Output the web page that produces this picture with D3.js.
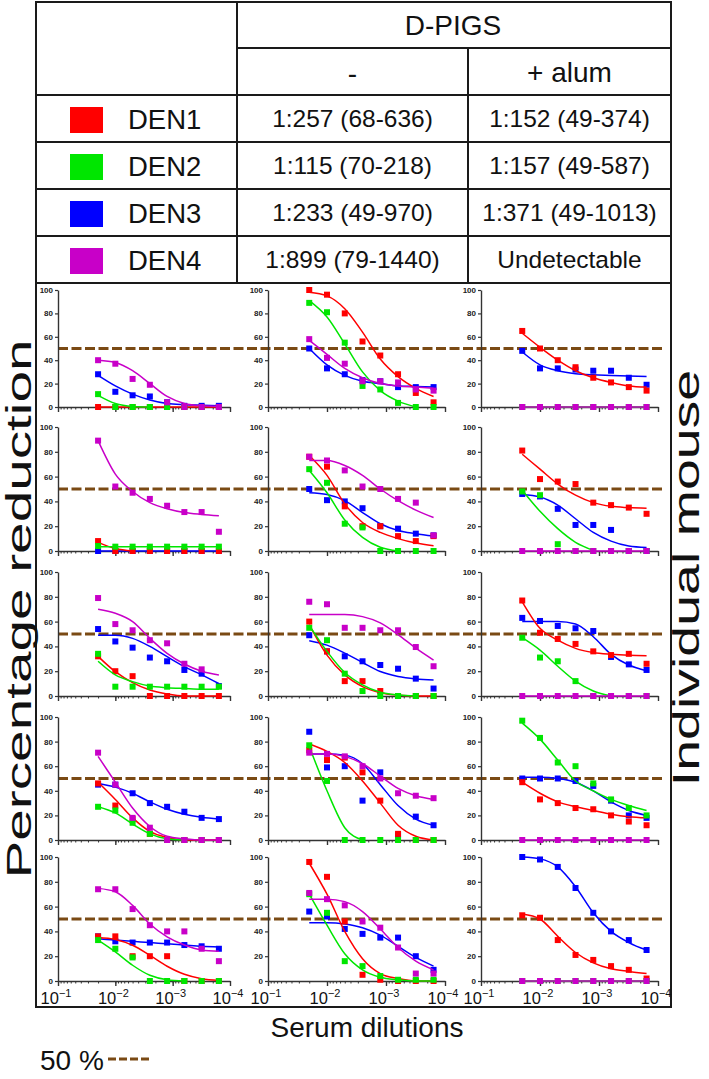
<!DOCTYPE html>
<html><head><meta charset="utf-8">
<script src="https://cdn.jsdelivr.net/npm/d3@7"></script>
<style>
body{margin:0;background:#fff}
svg{display:block;font-family:Arial,"Liberation Sans",Helvetica,sans-serif}
</style>
</head><body>
<svg id="chart" width="709" height="1079"></svg>
<script>
// ---------------- data ----------------
const serotypes = ["DEN1", "DEN2", "DEN3", "DEN4"];
const serotypeColours = ["#ff0000", "#00e600", "#0000ff", "#c800c8"];
const groupHeader = "D-PIGS";
const groupColumns = ["-", "+ alum"];
const titrePlain = ["1:257 (68-636)", "1:115 (70-218)", "1:233 (49-970)", "1:899 (79-1440)"];
const titreAlum = ["1:152 (49-374)", "1:157 (49-587)", "1:371 (49-1013)", "Undetectable"];
const dilutions = [1/50, 1/100, 1/200, 1/400, 1/800, 1/1600, 1/3200, 1/6400];
const xTickValues = [1e-1, 1e-2, 1e-3, 1e-4];
const xTickExponents = ["\u22121", "\u22122", "\u22123", "\u22124"];
const yTickValues = [0, 20, 40, 60, 80, 100];
const threshold = 50;
const yAxisTitle = "Percentage reduction";
const xAxisTitle = "Serum dilutions";
const rightTitle = "Individual mouse";
const legendLabel = "50 %";

// measured points; panels in row-major order (5 mice x 3 columns)
const den1Points = [
  [0,0,0,0,0,0,0,0], [100,96,80,56,44,28,12,4], [65,50,40,34,25,21,17,14],
  [8,0,0,0,0,0,0,0], [76,68,36,20,20,12,8,12], [81,58,56,54,39,37,35,30],
  [32,20,16,0,0,0,0,0], [60,36,12,12,4,0,0,0], [77,51,46,42,36,33,34,26],
  [46,28,17,5,0,0,0,0], [73,65,67,55,32,5,0,0], [47,33,30,26,25,20,15,12],
  [36,36,20,20,20,0,0,0], [96,84,48,5,1,0,0,0], [53,51,33,21,17,12,9,2]
];
const den2Points = [
  [11,0,0,0,0,0,0,0], [89,81,55,18,15,3.5,0,0], [0,0,0,0,0,0,0,0],
  [4,3.5,3.5,3.5,3.5,3.5,3.5,3.5], [66,55,22,19,0,0,0,0], [48,45,5.5,0,0,0,0,0],
  [34,7.5,7.5,7.5,7.5,7.5,7.5,7.5], [55,45,18,4,0,0,0,0], [47,31,28,12,0,0,0,0],
  [27,24,14,5,0,0,0,0], [77,48,0,0,0,0,0,0], [97,83,63,60,46,33,26,20],
  [33,26,19,0,0,0,0,0], [70,55,16,12,4,1,1,1], [0,0,0,0,0,0,0,0]
];
const den3Points = [
  [28,13,10,9,4,1,1,1], [50,33,28,23,22,17,17,17], [48,33,33,32,31,31,25,19],
  [0,0,0,0,0,0,0,0], [50,41,40,34.5,20,18,14,12.6], [46,44,34,21,21,17,0,0],
  [54,44,39,31,28,21,18,8], [49,36,32,28,25,22,14,6], [63,60.5,56.5,54.6,52.4,31.5,25.5,21],
  [45,45,38,30,27,23,18,17], [88,59,60,32,55,4,19,12], [50,50,50,48,44,32,20,18],
  [36,32,31,31,31,29,28,26], [56,52,42,38,35,35,20,9], [100,98,92,75,55,40,33,25]
];
const den4Points = [
  [40,37,24,19,4,0,0,0], [58,42,37,22,22,21,15,14], [0,0,0,0,0,0,0,0],
  [89,52,47,42,36.5,31.4,31.4,15.5], [76,73,65,52,50,42,39,12.6], [0,0,0,0,0,0,0,0],
  [79,58,53,45,42.5,26,21.5,null], [76,74,55,55,53,53,39.5,24], [0,0,0,0,0,0,0,0],
  [71,45,18,10,0,0,0,0], [71,70,68,60,50,38,36,34], [0,0,0,0,0,0,0,0],
  [74,74,58,45,40,40,26,16], [71,66,61,48,43,27,6,6], [0,0,0,0,0,0,0,0]
];

// fitted curves, read at each dilution (null = curve not drawn there)
const den1Fit = [
  [0,0,0,0,0,0,0,0], [98,95,84,64,41,26,16,9], [63,51,40,31,25,21,18,17],
  [7,2,0,null,null,null,null,null], [77,61,38,23,15,10,6.4,4.3], [78,66,54,45,39,36,35,34.4],
  [32,19.6,10.8,4.8,1.6,0,0,0], [57.6,33,17,7.6,2.7,0.8,0,0], [76,54.6,45,38.4,35,33.6,32.8,32.5],
  [47,33,18,7,2,0,0,0], [78,72,63,48,30,12,3,0], [47,38,31,27,24,21,19,18],
  [35,33.4,28.8,20.7,11.9,5.4,1.9,0.5], [95,70,40,18,6,2,0,0], [54,50,36,23,14.6,9.8,7.7,6]
];
const den2Fit = [
  [10,3,0.5,0,null,null,null,null], [91,77,54,30,14,5,0,null], [0,0,0,0,0,0,0,0],
  [3.5,3.5,3.5,3.5,3.5,3.5,3.5,3.5], [65,47,25,11,3,0,null,null], [49,32,18,7,0.5,null,null,null],
  [28,17,11.6,8,6.7,6,5.4,5.4], [57,36,19,9,3,0.8,0,null], [47,37,24,12,4,0,null,null],
  [27,22,13,5,1,0,null,null], [76,40,10,0,null,null,null,null], [95,82,65,48,40,33,28,24],
  [33,23.5,12.7,4.6,1,0,null,null], [70,45,22,9,3,1,0,0], [0,0,0,0,0,0,0,0]
];
const den3Fit = [
  [27,18,11,6,3,2,1.5,1], [50,36,27,22,20,18,17.5,17], [47,36,31,28.5,27.5,27,26.5,26],
  [0,0,0,0,0,0,0,0], [47,45.5,40.6,31,22,16.6,14,12], [45.5,43.5,37,26,15,8,4,2.8],
  [49,49,46.5,40,31.7,23.7,17,10], [44.6,41,34.6,27,19.7,15.7,13.8,13], [60,60,60,58,47.8,33.6,25,20.4],
  [46,43,38,31,25,21,18.5,17], [70,70,69,62,45,28,17,12], [51,51,50,47,40,31,24,20],
  [34,33,32,31,30,29,28,27.5], [47,47,46,43,37,28,19,12], [100,98.5,92,76,55,40,31,25]
];
const den4Fit = [
  [40,38,31,20,9,3,1,0.5], [57,45,33,25,20,18,17,16], [0,0,0,0,0,0,0,0],
  [89,62,48,39,34,31,29.5,28.4], [73,73,69,61,50,40.6,33,27], [0,0,0,0,0,0,0,0],
  [70,66.7,60,46.5,34.4,25.8,20,17], [65.7,65.7,65.7,64,59,49.5,38.6,29], [0,0,0,0,0,0,0,0],
  [68,47,26,11,3,1,0,0], [70,70,68,62,52,42,36,33], [0,0,0,0,0,0,0,0],
  [74.7,72,61,46,35.6,29,25,24], [66,66,64,56,42,27,16,9], [0,0,0,0,0,0,0,0]
];

// ---------------- layout ----------------
const colLeft = [58, 268, 481];
const colRight = [230, 445, 658];
const rowTop = [290, 427, 572, 717, 857];
const rowBottom = [407, 551, 696, 840, 981];
const ink = "#1a1a1a";
const brown = "#7a4a14";

const svg = d3.select("#chart");

// ---------------- table ----------------
const tb = {x0: 36, x1: 237, x2: 468, x3: 671, y0: 2, yh: 48, y1: 95, yEnd: 283, rowH: 47};
const tg = svg.append("g");
const tLine = (x1, y1, x2, y2) => tg.append("line").attr("x1", x1).attr("y1", y1).attr("x2", x2).attr("y2", y2)
  .attr("stroke", ink).attr("stroke-width", 2);
tg.append("rect").attr("x", tb.x0).attr("y", tb.y0).attr("width", tb.x3 - tb.x0).attr("height", tb.yEnd - tb.y0)
  .attr("fill", "none").attr("stroke", ink).attr("stroke-width", 2);
tLine(tb.x1, tb.y0, tb.x1, tb.yEnd);
tLine(tb.x2, tb.yh, tb.x2, tb.yEnd);
tLine(tb.x1, tb.yh, tb.x3, tb.yh);
serotypes.forEach((s, i) => tLine(tb.x0, tb.y1 + i * tb.rowH, tb.x3, tb.y1 + i * tb.rowH));

function cellText(x, y, txt, size, anchor) {
  tg.append("text").attr("x", x).attr("y", y).attr("text-anchor", anchor)
    .attr("font-size", size).attr("fill", "#111").text(txt);
}
const c2 = (tb.x1 + tb.x2) / 2, c3 = (tb.x2 + tb.x3) / 2;
cellText((tb.x1 + tb.x3) / 2 - 1, 35, groupHeader, 28, "middle");
cellText(c2, 83, groupColumns[0], 28, "middle");
cellText(c3, 82, groupColumns[1], 28, "middle");
serotypes.forEach((s, i) => {
  const top = tb.y1 + i * tb.rowH;
  tg.append("rect").attr("x", 70).attr("y", top + 12).attr("width", 33).attr("height", 26)
    .attr("fill", serotypeColours[i]);
  cellText(128, top + 34, s, 27.5, "start");
  cellText(c2, top + 32, titrePlain[i], 24.5, "middle");
  cellText(c3, top + 32, titreAlum[i], 24.5, "middle");
});

// ---------------- plot box ----------------
svg.append("rect").attr("x", 36).attr("y", 283).attr("width", 635).attr("height", 724)
  .attr("fill", "none").attr("stroke", ink).attr("stroke-width", 2);

const pointSets = [den1Points, den2Points, den3Points, den4Points];
const fitSets = [den1Fit, den2Fit, den3Fit, den4Fit];
const drawOrder = [2, 0, 1, 3];

for (let r = 0; r < 5; r++) {
  const y = d3.scaleLinear().domain([0, 100]).range([rowBottom[r], rowTop[r]]);
  svg.append("line").attr("x1", colLeft[0]).attr("x2", 664)
    .attr("y1", y(threshold)).attr("y2", y(threshold))
    .attr("stroke", brown).attr("stroke-width", 3).attr("stroke-dasharray", "10,3.5");

  for (let c = 0; c < 3; c++) {
    const p = r * 3 + c;
    const x = d3.scaleLog().domain([xTickValues[0], xTickValues[3]]).range([colLeft[c], colRight[c]]);
    const g = svg.append("g");

    const ya = g.append("g").attr("transform", `translate(${colLeft[c]},0)`)
      .call(d3.axisLeft(y).tickValues(yTickValues).tickSize(3).tickSizeOuter(0).tickPadding(2));
    ya.select(".domain").attr("stroke", "#333").attr("stroke-width", 1.4);
    ya.selectAll(".tick line").attr("stroke", "#333").attr("stroke-width", 1.2);
    ya.selectAll("text").attr("font-size", 8).attr("font-weight", "bold").attr("fill", "#222")
      .attr("font-family", "Arial, 'Liberation Sans', sans-serif");

    const xa = g.append("g").attr("transform", `translate(0,${rowBottom[r]})`)
      .call(d3.axisBottom(x).tickValues(x.ticks()).tickSize(2.5).tickSizeOuter(0).tickFormat(""));
    xa.select(".domain").attr("stroke", "#333").attr("stroke-width", 1.4);
    xa.selectAll(".tick line").attr("stroke", "#333").attr("stroke-width", 1);
    const xm = g.append("g").attr("transform", `translate(0,${rowBottom[r]})`)
      .call(d3.axisBottom(x).tickValues(xTickValues).tickSize(5).tickSizeOuter(0).tickFormat(""));
    xm.select(".domain").remove();
    xm.selectAll(".tick line").attr("stroke", "#333").attr("stroke-width", 1.4);

    if (r === 4) {
      xTickValues.forEach((v, k) => {
        const t = g.append("text").attr("x", x(v) - 2).attr("y", 1004).attr("text-anchor", "middle")
          .attr("font-size", 16.5).attr("fill", "#111");
        t.append("tspan").text("10");
        t.append("tspan").attr("dy", -7).attr("font-size", 11).text(xTickExponents[k]);
      });
    }

    drawOrder.forEach(si => {
      const fit = fitSets[si][p];
      const line = d3.line()
        .defined(d => d[1] !== null)
        .x(d => x(d[0])).y(d => y(d[1]))
        .curve(d3.curveMonotoneX);
      g.append("path").datum(dilutions.map((dv, k) => [dv, fit[k]]))
        .attr("d", line).attr("fill", "none").attr("stroke", serotypeColours[si]).attr("stroke-width", 1.5);
      const pts = pointSets[si][p];
      g.selectAll(null).data(dilutions.map((dv, k) => [dv, pts[k]]).filter(d => d[1] !== null))
        .enter().append("rect")
        .attr("x", d => x(d[0]) - 3).attr("y", d => y(d[1]) - 3)
        .attr("width", 6).attr("height", 6)
        .attr("fill", serotypeColours[si]);
    });
  }
}

// ---------------- titles ----------------
svg.append("text").attr("transform", "translate(31,609) rotate(-90) scale(1.62,1)")
  .attr("text-anchor", "middle").attr("font-size", 35).attr("fill", "#111").text(yAxisTitle);
svg.append("text").attr("transform", "translate(699,578) rotate(-90) scale(1.5,1)")
  .attr("text-anchor", "middle").attr("font-size", 37).attr("fill", "#111").text(rightTitle);
svg.append("text").attr("x", 367).attr("y", 1037).attr("text-anchor", "middle")
  .attr("font-size", 28).attr("fill", "#111").text(xAxisTitle);

svg.append("text").attr("x", 40).attr("y", 1070).attr("font-size", 28).attr("fill", "#111").text(legendLabel);
svg.append("line").attr("x1", 108).attr("x2", 149).attr("y1", 1059).attr("y2", 1059)
  .attr("stroke", brown).attr("stroke-width", 3).attr("stroke-dasharray", "8,3");
</script>
</body></html>
